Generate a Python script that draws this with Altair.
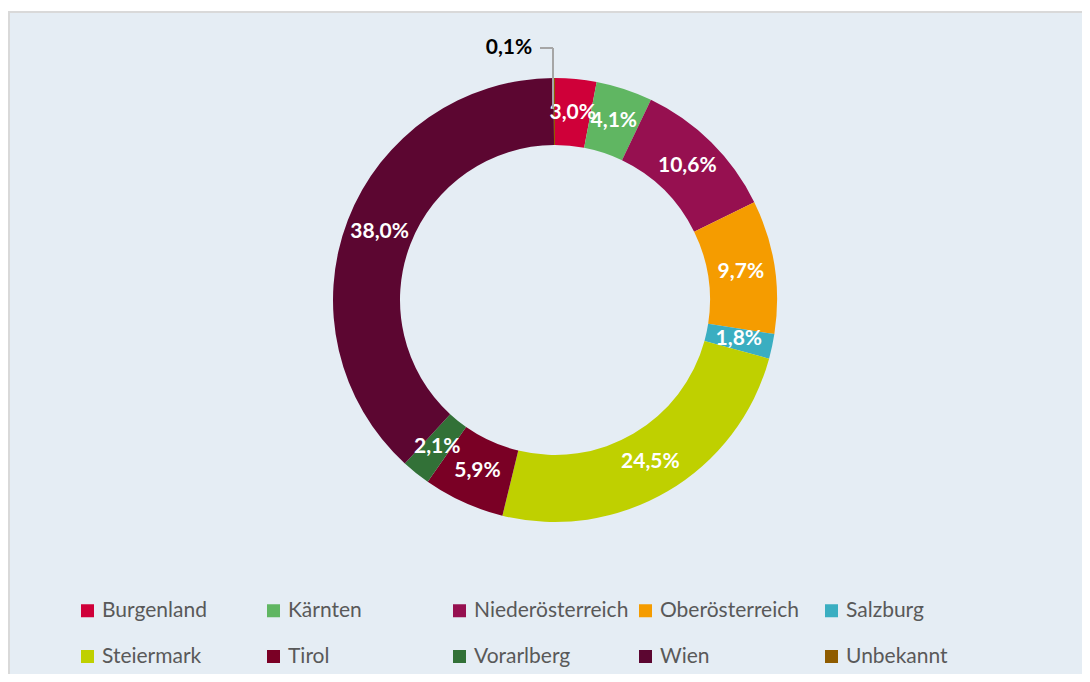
import altair as alt
import pandas as pd

categories = ["Burgenland", "Kärnten", "Niederösterreich", "Oberösterreich", "Salzburg",
              "Steiermark", "Tirol", "Vorarlberg", "Wien", "Unbekannt"]
values = [3.0, 4.1, 10.6, 9.7, 1.8, 24.5, 5.9, 2.1, 38.0, 0.1]
colors = ["#cf0039", "#60b662", "#961050", "#f59c00", "#3aaec1",
          "#bfd000", "#7a0025", "#327137", "#5c0631", "#8f5c00"]

def fmt(v):
    return f"{v:.1f}".replace(".", ",") + "%"

df = pd.DataFrame({
    "cat": categories,
    "value": values,
    "idx": list(range(len(categories))),
    "inner": [fmt(v) if v >= 1 else "" for v in values],
    "outer": [fmt(v) if v < 1 else "" for v in values],
})

CX, CY = 547, 289
FONT = "Lato"

base = alt.Chart(df).encode(
    theta=alt.Theta("value:Q", stack=True),
    order=alt.Order("idx:Q"),
)

arcs = base.mark_arc(outerRadius=222, innerRadius=155, stroke=None).encode(
    x=alt.value(CX), y=alt.value(CY),
    color=alt.Color(
        "cat:N",
        scale=alt.Scale(domain=categories, range=colors),
        sort=categories,
        legend=alt.Legend(
            title=None, orient="none", legendX=69, legendY=589,
            columns=5, direction="horizontal", gridAlign="all",
            columnPadding=6, rowPadding=24,
            symbolType="square", symbolSize=169, symbolStrokeWidth=0,
            labelFont=FONT, labelFontSize=21, labelColor="#595959",
            labelOffset=4, padding=0, labelLimit=300,
        ),
    ),
)

inner_labels = base.mark_text(
    radius=188, font=FONT, fontSize=21, fontWeight="bold", color="white"
).encode(x=alt.value(CX), y=alt.value(CY), text="inner:N")

outer_labels = base.mark_text(
    radius=252, font=FONT, fontSize=21, fontWeight="bold", color="black",
    align="right", dx=-22
).encode(x=alt.value(CX), y=alt.value(CY), text="outer:N")

leader_h = alt.Chart(df).mark_rule(color="#a6a6a6", strokeWidth=1.5).encode(
    x=alt.value(532), x2=alt.value(545), y=alt.value(37))
leader_v = alt.Chart(df).mark_rule(color="#a6a6a6", strokeWidth=1.5).encode(
    x=alt.value(545), y=alt.value(37), y2=alt.value(98))

border_top = alt.Chart(df).mark_rule(color="#d9d9d9", strokeWidth=2).encode(
    x=alt.value(0), x2=alt.value(1074), y=alt.value(1))
border_left = alt.Chart(df).mark_rule(color="#d9d9d9", strokeWidth=2).encode(
    x=alt.value(1), y=alt.value(0), y2=alt.value(663))

chart = alt.layer(
    arcs, inner_labels, leader_h, leader_v, outer_labels, border_top, border_left
).properties(
    width=1074, height=663,
    autosize=alt.AutoSizeParams(type="none"),
    padding={"left": 0, "top": 3, "right": 0, "bottom": 0},
    background="white",
).configure_view(
    fill="#e5edf4", stroke=None
)

chart.save("out.html", embed_options={"renderer": "svg", "actions": False})
